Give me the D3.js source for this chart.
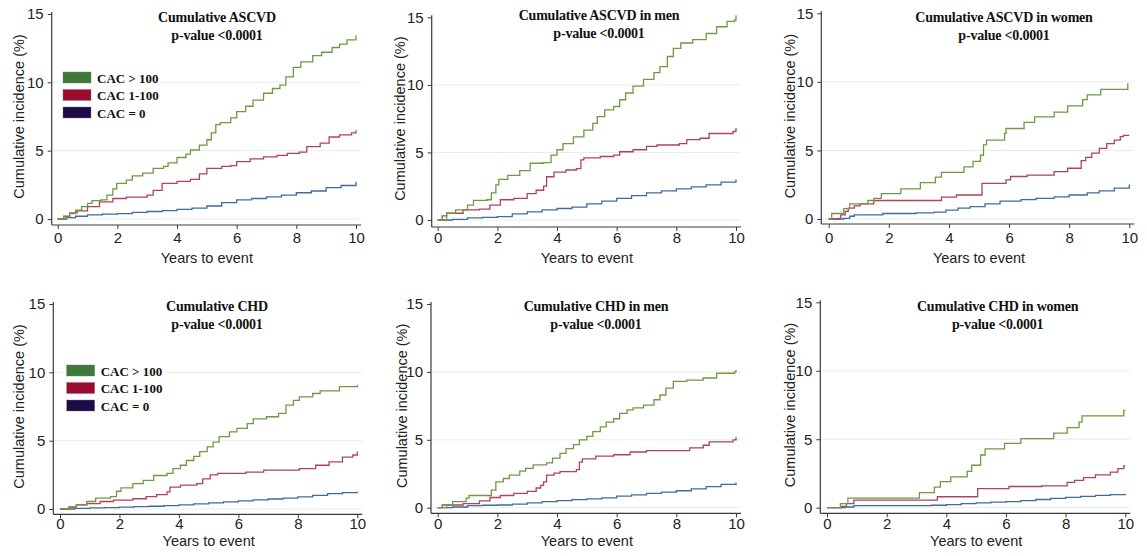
<!DOCTYPE html>
<html><head><meta charset="utf-8">
<script src="https://cdn.jsdelivr.net/npm/d3@7"></script>
<style>
html,body{margin:0;padding:0;background:#fff;}
svg{display:block;}
</style></head>
<body>
<svg id="chart" width="1147" height="556"></svg>
<script>
// ---------------- DATA ----------------
const xTicks = [0, 2, 4, 6, 8, 10];
const yTicks = [0, 5, 10, 15];
const gridTicks = [0, 5, 10];
const seriesLabels = ["CAC > 100", "CAC 1-100", "CAC = 0"];
const panelTitles = ["Cumulative ASCVD", "Cumulative ASCVD in men", "Cumulative ASCVD in women",
                     "Cumulative CHD", "Cumulative CHD in men", "Cumulative CHD in women"];
const pValueText = "p-value <0.0001";
const xAxisTitle = "Years to event";
const yAxisTitle = "Cumulative incidence (%)";

// [years, cumulative incidence %]
const ascvdAll_high = [[0,0],[0.2,0.15],[0.4,0.4],[0.6,0.65],[0.8,0.9],[1.0,1.15],[1.15,1.35],[1.45,1.4],[1.65,1.75],[1.85,2.2],[1.98,2.6],[2.3,2.85],[2.5,3.15],[2.85,3.35],[3.2,3.7],[3.55,3.85],[3.7,4.1],[4.0,4.5],[4.3,4.75],[4.45,5.05],[4.75,5.4],[5.0,5.8],[5.15,6.3],[5.3,6.9],[5.45,7.05],[5.8,7.4],[6.0,7.85],[6.3,8.25],[6.55,8.7],[6.9,9.2],[7.2,9.55],[7.45,9.8],[7.65,10.4],[7.9,11.1],[8.15,11.5],[8.55,11.95],[8.85,12.2],[9.2,12.55],[9.45,12.8],[9.7,13.1],[10.0,13.45]];
const ascvdAll_mid = [[0,0],[0.2,0.2],[0.4,0.45],[0.65,0.6],[1.0,0.9],[1.4,1.25],[1.85,1.5],[2.3,1.6],[3.0,1.75],[3.2,2.1],[3.5,2.6],[4.0,2.75],[4.45,2.9],[4.75,3.3],[5.0,3.7],[5.5,3.85],[5.8,3.9],[6.0,4.2],[6.45,4.4],[6.9,4.55],[7.35,4.65],[7.7,4.8],[8.1,4.9],[8.35,5.3],[8.8,5.55],[9.1,6.0],[9.45,6.15],[9.85,6.3],[10.0,6.5]];
const ascvdAll_zero = [[0,0],[0.3,0.1],[0.6,0.2],[1.0,0.3],[1.5,0.35],[2.0,0.4],[2.5,0.48],[3.0,0.55],[3.5,0.62],[4.0,0.7],[4.5,0.8],[5.0,0.95],[5.5,1.2],[6.0,1.4],[6.5,1.5],[7.0,1.62],[7.5,1.75],[8.0,1.92],[8.5,2.05],[9.0,2.3],[9.5,2.45],[10.0,2.72]];

const ascvdMen_high = [[0,0],[0.3,0.5],[0.6,0.75],[1.0,1.1],[1.2,1.45],[1.65,1.5],[1.8,2.0],[1.95,2.6],[2.05,3.0],[2.35,3.3],[2.75,3.65],[3.1,4.2],[3.55,4.25],[3.8,4.8],[4.0,5.2],[4.2,5.65],[4.55,6.15],[4.9,6.65],[5.2,7.15],[5.35,7.65],[5.6,8.15],[5.9,8.4],[6.1,8.9],[6.3,9.4],[6.55,9.9],[6.9,10.4],[7.25,10.9],[7.45,11.35],[7.7,12.1],[7.9,12.7],[8.15,13.1],[8.55,13.35],[9.0,13.8],[9.35,14.3],[9.7,14.7],[9.95,14.8],[10.0,15.15]];
const ascvdMen_mid = [[0,0],[0.15,0.3],[0.3,0.5],[0.85,0.75],[1.4,0.8],[1.75,1.1],[2.1,1.5],[2.55,1.6],[3.0,1.95],[3.3,2.2],[3.55,2.5],[3.65,3.2],[3.9,3.55],[4.3,3.7],[4.65,3.8],[4.8,4.45],[4.9,4.6],[5.45,4.7],[5.9,4.8],[6.1,5.05],[6.55,5.2],[7.0,5.45],[7.35,5.55],[8.1,5.65],[8.35,5.95],[8.8,6.05],[9.1,6.4],[9.9,6.55],[10.0,6.8]];
const ascvdMen_zero = [[0,0],[0.5,0.05],[1.0,0.15],[1.5,0.2],[2.0,0.25],[2.5,0.45],[3.0,0.6],[3.5,0.75],[4.0,0.85],[4.5,0.95],[5.0,1.2],[5.5,1.4],[6.0,1.6],[6.5,1.8],[7.0,2.0],[7.5,2.15],[8.0,2.3],[8.5,2.45],[9.0,2.6],[9.5,2.8],[10.0,3.0]];

const ascvdWomen_high = [[0,0],[0.1,0.4],[0.5,0.75],[0.7,1.1],[1.3,1.35],[1.5,1.5],[1.75,1.85],[2.4,2.2],[3.05,2.65],[3.55,3.05],[3.75,3.4],[4.5,3.8],[4.8,4.2],[5.05,4.65],[5.15,5.4],[5.25,5.75],[5.85,6.25],[5.9,6.6],[6.5,7.05],[6.85,7.45],[7.5,7.8],[7.95,8.25],[8.45,8.7],[8.6,9.05],[9.05,9.45],[9.95,9.9]];
const ascvdWomen_mid = [[0,0],[0.35,0.05],[0.4,0.3],[0.55,0.55],[0.65,0.8],[0.85,0.95],[1.05,1.1],[1.5,1.35],[3.75,1.6],[4.25,1.75],[5.1,2.6],[5.9,2.85],[6.05,3.1],[6.6,3.2],[7.5,3.45],[7.95,3.7],[8.4,4.25],[8.55,4.5],[8.75,4.8],[9.0,5.15],[9.25,5.5],[9.5,5.75],[9.7,6.0],[9.8,6.1],[10.0,6.1]];
const ascvdWomen_zero = [[0,0],[0.5,0.05],[0.7,0.2],[0.85,0.3],[1.8,0.4],[2.9,0.45],[3.5,0.5],[3.9,0.65],[4.3,0.8],[4.7,0.9],[5.2,1.1],[5.7,1.3],[6.4,1.42],[6.9,1.5],[7.5,1.62],[8.0,1.75],[8.6,1.9],[9.0,2.05],[9.5,2.25],[10.0,2.52]];

const chdAll_high = [[0,0],[0.3,0.1],[0.55,0.3],[0.9,0.55],[1.2,0.8],[1.7,0.9],[1.9,1.3],[2.05,1.55],[2.45,1.85],[2.8,2.1],[3.15,2.45],[3.6,2.6],[3.8,2.95],[4.05,3.2],[4.25,3.55],[4.5,3.85],[4.7,4.2],[4.95,4.55],[5.15,4.9],[5.35,5.3],[5.7,5.65],[5.95,5.9],[6.3,6.25],[6.5,6.6],[6.95,6.75],[7.35,7.0],[7.6,7.6],[7.85,7.95],[8.05,8.2],[8.5,8.45],[8.75,8.65],[9.4,8.95],[10.0,9.1]];
const chdAll_mid = [[0,0],[0.3,0.15],[0.55,0.3],[0.9,0.4],[1.35,0.55],[1.8,0.65],[2.45,0.75],[2.9,0.9],[3.25,1.05],[3.6,1.25],[3.7,1.6],[4.05,1.75],[4.6,1.85],[4.8,2.2],[5.05,2.5],[5.3,2.6],[6.25,2.7],[6.85,2.85],[8.05,2.95],[8.6,3.2],[9.05,3.45],[9.5,3.8],[9.85,3.95],[10.0,4.2]];
const chdAll_zero = [[0,0],[0.5,0.05],[1.0,0.08],[1.5,0.1],[2.0,0.13],[2.5,0.17],[3.0,0.2],[3.5,0.24],[4.0,0.3],[4.5,0.38],[5.0,0.45],[5.5,0.52],[6.0,0.6],[6.5,0.67],[7.0,0.73],[7.5,0.8],[8.0,0.88],[8.5,1.0],[9.0,1.12],[9.5,1.2],[10.0,1.27]];

const chdMen_high = [[0,0],[0.3,0.2],[0.5,0.45],[0.95,0.7],[1.05,0.9],[1.65,0.9],[1.8,1.3],[1.95,1.9],[2.2,2.15],[2.4,2.4],[2.75,2.7],[2.95,2.9],[3.2,3.15],[3.65,3.3],[3.85,3.65],[4.1,4.0],[4.3,4.35],[4.55,4.65],[4.75,5.0],[5.0,5.25],[5.2,5.6],[5.45,5.95],[5.65,6.3],[5.9,6.55],[6.1,6.95],[6.35,7.2],[6.55,7.35],[6.9,7.55],[7.25,7.95],[7.45,8.3],[7.65,8.8],[7.9,9.3],[8.35,9.4],[8.9,9.55],[9.35,9.9],[9.95,10.0],[10.0,10.15]];
const chdMen_mid = [[0,0],[0.15,0.2],[0.85,0.3],[1.4,0.5],[1.75,0.75],[2.1,0.9],[2.55,1.05],[3.0,1.2],[3.3,1.45],[3.45,1.65],[3.55,1.9],[3.65,2.4],[3.9,2.55],[4.1,2.65],[4.65,2.8],[4.75,3.35],[4.85,3.6],[5.3,3.8],[5.9,3.9],[6.45,4.1],[7.0,4.2],[8.45,4.4],[8.9,4.6],[9.1,4.85],[9.9,5.0],[10.0,5.2]];
const chdMen_zero = [[0,0],[0.5,0.05],[1.0,0.15],[1.5,0.18],[2.0,0.2],[2.5,0.27],[3.0,0.35],[3.5,0.45],[4.0,0.52],[4.5,0.6],[5.0,0.65],[5.5,0.72],[6.0,0.85],[6.5,0.95],[7.0,1.05],[7.5,1.15],[8.0,1.25],[8.5,1.38],[9.0,1.55],[9.5,1.72],[10.0,1.85]];

const chdWomen_high = [[0,0],[0.45,0.3],[0.7,0.7],[3.1,1.1],[3.6,1.5],[3.8,1.9],[4.15,2.25],[4.7,2.65],[4.85,3.1],[5.15,3.85],[5.3,4.3],[5.95,4.7],[6.5,5.05],[7.6,5.45],[8.05,5.85],[8.45,6.25],[8.55,6.7],[9.95,7.1],[10.0,7.1]];
const chdWomen_mid = [[0,0],[0.5,0.1],[0.65,0.3],[0.9,0.55],[3.7,0.8],[5.05,1.4],[6.1,1.55],[7.2,1.6],[8.05,1.85],[8.3,2.0],[8.6,2.2],[9.0,2.4],[9.5,2.6],[9.75,2.85],[9.95,3.05],[10.0,3.05]];
const chdWomen_zero = [[0,0],[0.6,0.05],[0.9,0.15],[2.5,0.15],[3.5,0.18],[4.0,0.22],[4.5,0.3],[5.0,0.35],[5.5,0.4],[6.0,0.45],[6.5,0.52],[7.0,0.6],[7.5,0.68],[8.0,0.75],[8.5,0.82],[9.0,0.9],[9.5,0.95],[10.0,1.0]];

// ---------------- STYLE / LAYOUT ----------------
const lineColors = ["#6f9944", "#b0425d", "#3f6b9f"];
const swatchColors = ["#3d7a3a", "#9c0c2e", "#1d0b47"];

const panels = [
  {series:[ascvdAll_high, ascvdAll_mid, ascvdAll_zero], x0:57.7, x1:356, y0:219, y1:14, ax:51.7, ay:225, tx:217, ty:22, ytx:18.5, tickY:243, titleY:263, legend:{x:63, y:72}},
  {series:[ascvdMen_high, ascvdMen_mid, ascvdMen_zero], x0:437.7, x1:736, y0:220, y1:17.3, ax:431.7, ay:227, tx:599, ty:20, ytx:400, tickY:243, titleY:263},
  {series:[ascvdWomen_high, ascvdWomen_mid, ascvdWomen_zero], x0:828.7, x1:1129.3, y0:219, y1:13.3, ax:821.3, ay:224, tx:1004, ty:22, ytx:790.3, tickY:243, titleY:263},
  {series:[chdAll_high, chdAll_mid, chdAll_zero], x0:60, x1:357.3, y0:509, y1:304, ax:53.3, ay:514.3, tx:217, ty:311, ytx:18.5, tickY:529, titleY:546, legend:{x:66.7, y:365}},
  {series:[chdMen_high, chdMen_mid, chdMen_zero], x0:437.7, x1:736, y0:507.7, y1:304, ax:431, ay:513.3, tx:596, ty:311, ytx:401.7, tickY:529, titleY:546},
  {series:[chdWomen_high, chdWomen_mid, chdWomen_zero], x0:827, x1:1125.3, y0:507.7, y1:302.3, ax:820.3, ay:513.3, tx:997.7, ty:311, ytx:790.3, tickY:529, titleY:546}
];

const svg = d3.select("#chart");
const sans = "Arial, 'Liberation Sans', Helvetica, sans-serif";
const serif = "'Times New Roman', 'Liberation Serif', serif";
const axisColor = "#3a3a3a";

panels.forEach((p, i) => {
  const g = svg.append("g");
  const x = d3.scaleLinear().domain([0, 10]).range([p.x0, p.x1]);
  const y = d3.scaleLinear().domain([0, 15]).range([p.y0, p.y1]);
  const axRight = p.x1 + 5;

  // gridlines
  g.selectAll("line.grid").data(gridTicks).join("line")
    .attr("x1", p.ax + 1).attr("x2", axRight)
    .attr("y1", d => y(d)).attr("y2", d => y(d))
    .attr("stroke", "#e9ecec").attr("stroke-width", 1);

  // y axis
  const yAxis = d3.axisLeft(y).tickValues(yTicks).tickSize(4).tickPadding(4).tickFormat(d3.format("d"));
  const yg = g.append("g").attr("transform", `translate(${p.ax},0)`).call(yAxis);
  yg.select(".domain").attr("d", `M0,${y(15) - 2}V${p.ay}`).attr("stroke", axisColor).attr("stroke-width", 1.2);
  yg.selectAll(".tick line").attr("stroke", axisColor);
  yg.selectAll(".tick text").attr("font-family", sans).attr("font-size", 15).attr("fill", "#222");

  // x axis
  const xAxis = d3.axisBottom(x).tickValues(xTicks).tickSize(4).tickPadding(3).tickFormat(d3.format("d"));
  const xg = g.append("g").attr("transform", `translate(0,${p.ay})`).call(xAxis);
  xg.select(".domain").attr("d", `M${p.ax},0H${axRight}`).attr("stroke", axisColor).attr("stroke-width", 1.2);
  xg.selectAll(".tick line").attr("stroke", axisColor);
  xg.selectAll(".tick text").attr("font-family", sans).attr("font-size", 15).attr("fill", "#222")
    .attr("y", null).attr("dy", null)
    .attr("transform", `translate(0,${p.tickY - p.ay})`);

  // axis titles
  g.append("text").attr("x", (p.x0 + p.x1) / 2).attr("y", p.titleY)
    .attr("text-anchor", "middle").attr("font-family", sans).attr("font-size", 14.5).attr("fill", "#222")
    .text(xAxisTitle);
  g.append("text").attr("transform", `translate(${p.ytx},${(p.y0 + p.y1) / 2}) rotate(-90)`)
    .attr("text-anchor", "middle").attr("dominant-baseline", "central")
    .attr("font-family", sans).attr("font-size", 14.5).attr("fill", "#222")
    .text(yAxisTitle);

  // curves
  const line = d3.line().x(d => x(d[0])).y(d => y(d[1])).curve(d3.curveStepAfter);
  [2, 1, 0].forEach(k => {
    g.append("path").datum(p.series[k]).attr("d", line)
      .attr("fill", "none").attr("stroke", lineColors[k]).attr("stroke-width", 1.3);
  });

  // titles
  g.append("text").attr("x", p.tx).attr("y", p.ty).attr("text-anchor", "middle")
    .attr("font-family", serif).attr("font-weight", "bold").attr("font-size", 14).attr("fill", "#111")
    .attr("letter-spacing", -0.2)
    .text(panelTitles[i]);
  g.append("text").attr("x", p.tx).attr("y", p.ty + 18).attr("text-anchor", "middle")
    .attr("font-family", serif).attr("font-weight", "bold").attr("font-size", 14).attr("fill", "#111")
    .attr("letter-spacing", -0.2)
    .text(pValueText);

  // legend
  if (p.legend) {
    const lg = g.append("g").attr("transform", `translate(${p.legend.x},${p.legend.y})`);
    lg.append("rect").attr("x", -4).attr("y", -3).attr("width", 100).attr("height", 52).attr("fill", "#fff");
    seriesLabels.forEach((lab, k) => {
      lg.append("rect").attr("x", 0).attr("y", k * 17.5).attr("width", 28).attr("height", 11)
        .attr("fill", swatchColors[k]).attr("stroke", "#777").attr("stroke-width", 0.4);
      lg.append("text").attr("x", 34).attr("y", k * 17.5 + 10.5)
        .attr("font-family", serif).attr("font-weight", "bold").attr("font-size", 13).attr("fill", "#111")
        .text(lab);
    });
  }
});
</script>
</body></html>
